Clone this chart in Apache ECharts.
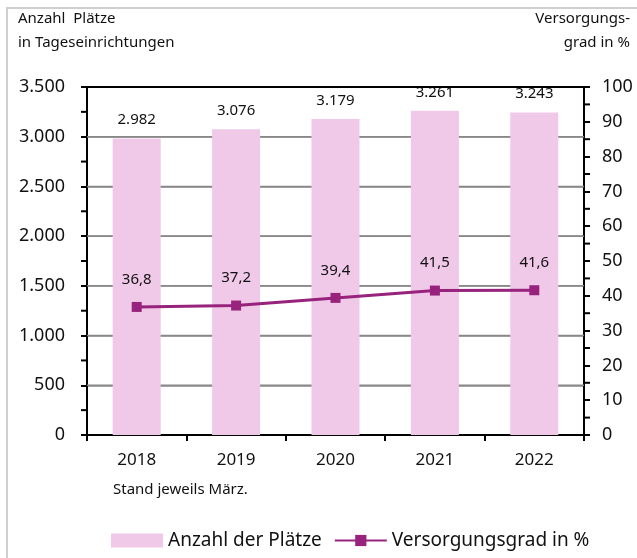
<!DOCTYPE html>
<html><head><meta charset="utf-8">
<script src="https://cdn.jsdelivr.net/npm/echarts@6/dist/echarts.min.js"></script>
<style>html,body{margin:0;padding:0;background:#fff}
#wrap{position:relative;width:637px;height:558px;overflow:hidden}
#frame{position:absolute;left:6px;top:7px;width:700px;height:700px;border-left:2px solid #cfcfcf;border-top:2px solid #cfcfcf;box-sizing:border-box;pointer-events:none}
#c{position:absolute;left:0;top:0;width:637px;height:558px}</style>
</head><body><div id="wrap"><div id="frame"></div><div id="c"></div></div>
<script>
const categories = ['2018', '2019', '2020', '2021', '2022'];
const places = [2982, 3076, 3179, 3261, 3243];
const coverage = [36.8, 37.2, 39.4, 41.5, 41.6];
const leftGridValues = [500, 1000, 1500, 2000, 2500, 3000];
const leftMax = 3500;
const leftMinorTicks = [250, 750, 1250, 1750, 2250, 2750, 3250];
const rightMinorTicks = [5, 15, 25, 35, 45, 55, 65, 75, 85, 95];
const FONT = 'Noto Sans';
const PINK = '#F0C8E8';
const PURPLE = '#97237D';
const GRID = {left: 87, right: 53, top: 87, bottom: 123};
const W = 637;
const fmtThousand = v => {
  const s = String(Math.round(v));
  return s.replace(/\B(?=(\d{3})+(?!\d))/g, '.');
};
const tickStyle = {color: '#000', width: 2};

function gridLineItem(params, api) {
  const cs = params.coordSys;
  const y = api.coord([0, api.value(1)])[1];
  return {type: 'line', shape: {x1: cs.x, y1: y, x2: cs.x + cs.width, y2: y},
    style: {stroke: '#888888', lineWidth: 1.5}};
}

const textGraphics = [
  {type: 'text', left: 18, top: 11, style: {text: 'Anzahl  Plätze', font: '15px ' + FONT, fill: '#111'}},
  {type: 'text', left: 18, top: 35, style: {text: 'in Tageseinrichtungen', font: '15px ' + FONT, fill: '#111'}},
  {type: 'text', right: 7, top: 11, style: {text: 'Versorgungs-', font: '15px ' + FONT, fill: '#111', align: 'right'}},
  {type: 'text', right: 7, top: 35, style: {text: 'grad in %', font: '15px ' + FONT, fill: '#111', align: 'right'}},
  {type: 'text', left: 113, top: 482, style: {text: 'Stand jeweils März.', font: '15px ' + FONT, fill: '#111'}}
];

const chart = echarts.init(document.getElementById('c'), null, {renderer: 'canvas'});
chart.setOption({
  animation: false,
  textStyle: {fontFamily: FONT, color: '#111'},
  grid: GRID,
  graphic: textGraphics,
  legend: {
    left: 106, top: 526, itemWidth: 52, itemHeight: 14, itemGap: 12,
    textStyle: {fontFamily: FONT, fontSize: 19, color: '#111'},
    data: [{name: 'Anzahl der Plätze', icon: 'rect'}, {name: 'Versorgungsgrad in %'}]
  },
  xAxis: {
    type: 'category', data: categories,
    axisLine: {lineStyle: {color: '#000', width: 2}},
    axisTick: {show: true, length: 6, lineStyle: tickStyle},
    axisLabel: {fontFamily: FONT, fontSize: 17, color: '#111', margin: 17}
  },
  yAxis: [
    {
      type: 'value', min: 0, max: leftMax, interval: 500, position: 'left',
      axisLine: {show: true, lineStyle: {color: '#000', width: 2}},
      axisTick: {show: true, length: 6, lineStyle: tickStyle},
      splitLine: {show: true, lineStyle: {color: '#888888', width: 1.5}},
      axisLabel: {fontFamily: FONT, fontSize: 18, color: '#111', margin: 22, formatter: fmtThousand}
    },
    {
      type: 'value', min: 0, max: 100, interval: 10, position: 'right',
      axisLine: {show: true, lineStyle: {color: '#000', width: 2}},
      axisTick: {show: true, length: 6, lineStyle: tickStyle},
      splitLine: {show: false},
      axisLabel: {fontFamily: FONT, fontSize: 18, color: '#111', margin: 18}
    }
  ],
  series: [
    {
      name: 'grid', type: 'custom', yAxisIndex: 0, z: 1, silent: true,
      encode: {x: 0, y: 1}, renderItem: gridLineItem,
      data: leftGridValues.map(v => [0, v])
    },
    {
      name: 'Anzahl der Plätze', type: 'bar', data: places, yAxisIndex: 0,
      barWidth: 48, itemStyle: {color: PINK}, z: 2,
      label: {show: true, position: 'top', distance: 11, fontFamily: FONT, fontSize: 15, color: '#111', formatter: p => fmtThousand(p.value)}
    },
    {
      name: 'Versorgungsgrad in %', type: 'line', data: coverage, yAxisIndex: 1,
      symbol: 'rect', symbolSize: 10,
      lineStyle: {color: PURPLE, width: 3}, itemStyle: {color: PURPLE},
      label: {show: true, position: 'top', distance: 15, fontFamily: FONT, fontSize: 15, color: '#111', formatter: p => p.value.toFixed(1).replace('.', ',')},
      z: 5
    }
  ]
});

// Extra lines placed through the chart's own y scales
const xL = GRID.left, xR = W - GRID.right;
const extra = [];
const yTop = chart.convertToPixel({yAxisIndex: 0}, leftMax);
extra.push({type: 'line', silent: true, z: 10, shape: {x1: xL, y1: yTop, x2: xR, y2: yTop}, style: {stroke: '#000', lineWidth: 2}});
leftMinorTicks.forEach(v => {
  const y = chart.convertToPixel({yAxisIndex: 0}, v);
  extra.push({type: 'line', silent: true, z: 10, shape: {x1: xL - 6, y1: y, x2: xL, y2: y}, style: {stroke: '#000', lineWidth: 2}});
});
rightMinorTicks.forEach(v => {
  const y = chart.convertToPixel({yAxisIndex: 1}, v);
  extra.push({type: 'line', silent: true, z: 10, shape: {x1: xR, y1: y, x2: xR + 6, y2: y}, style: {stroke: '#000', lineWidth: 2}});
});
chart.setOption({graphic: textGraphics.concat(extra)});
</script></body></html>
